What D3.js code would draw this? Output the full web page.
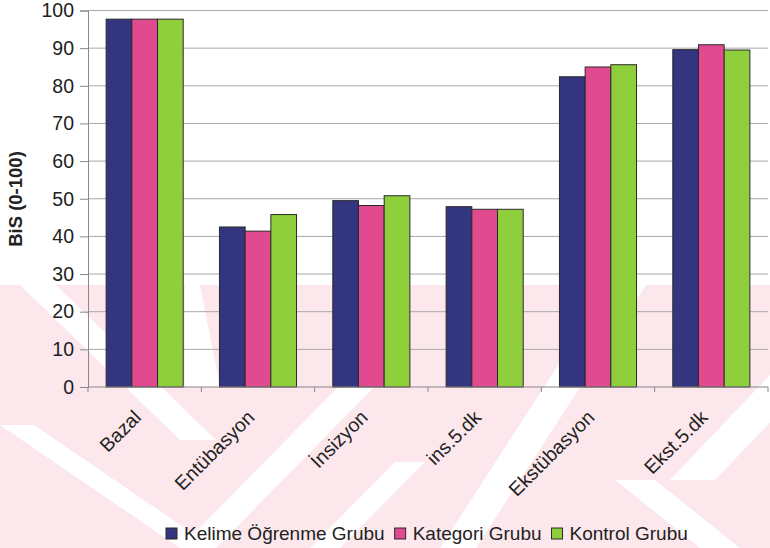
<!DOCTYPE html>
<html><head><meta charset="utf-8">
<script src="https://cdn.jsdelivr.net/npm/d3@7"></script>
<style>body{margin:0;background:#fff}svg{display:block}text{font-family:"Liberation Sans",Arial,sans-serif;fill:#222}</style>
</head><body><svg id="c" width="770" height="548"></svg>
<script>
const categories = ["Bazal","Entübasyon","İnsizyon","ins.5.dk","Ekstübasyon","Ekst.5.dk"];
const seriesNames = ["Kelime Öğrenme Grubu","Kategori Grubu","Kontrol Grubu"];
const kelime   = [97.7, 42.5, 49.5, 47.9, 82.4, 89.6];
const kategori = [97.7, 41.4, 48.2, 47.2, 85.0, 90.9];
const kontrol  = [97.7, 45.8, 50.8, 47.2, 85.6, 89.5];
const yTicks = [0,10,20,30,40,50,60,70,80,90,100];
const yTitle = "BiS (0-100)";
const colors = ["#33367f","#e14a8e","#8fcf3b"];

const series = [kelime, kategori, kontrol];
const svg = d3.select("#c");
const L = 88, R = 768, T = 10.5, B = 387;

// faint watermark (decoration)
const wm = svg.append("g");
wm.append("rect").attr("x",0).attr("y",285).attr("width",770).attr("height",263).attr("fill","#fce8ec");
const stripes = [[20,285,180,440,36],[0,425,180,548,34],[345,380,180,548,36],[395,462,310,548,30],[610,285,440,548,36],[615,480,700,548,40],[770,375,670,480,45]];
stripes.forEach(s=>{
  const [x1,y1,x2,y2,w]=s;
  wm.append("polygon").attr("points",[[x1,y1],[x1+w,y1],[x2+w,y2],[x2,y2]].map(p=>p.join(",")).join(" ")).attr("fill","#fff");
});
wm.append("polygon").attr("points","185,285 200,285 220,387 185,387").attr("fill","#fff");

const y = d3.scaleLinear().domain([0,100]).range([B,T]);
const x0 = d3.scaleBand().domain(categories).range([L,R]);
const bw = x0.bandwidth();
const x1 = d3.scaleBand().domain(seriesNames).range([bw*0.16, bw*0.84]);

// gridlines
svg.append("g").selectAll("line").data(yTicks.filter(d=>d>0)).join("line")
  .attr("x1",L).attr("x2",R).attr("y1",d=>y(d)).attr("y2",d=>y(d))
  .attr("stroke","#a8a8a8").attr("stroke-width",1);

// bars
const g = svg.append("g");
categories.forEach((c,i)=>{
  seriesNames.forEach((s,j)=>{
    g.append("rect").attr("x",x0(c)+x1(s)).attr("width",x1.bandwidth())
      .attr("y",y(series[j][i])).attr("height",B-y(series[j][i]))
      .attr("fill",colors[j]).attr("stroke","#2a2a2a").attr("stroke-width",1);
  });
});

// y axis
const ya = svg.append("g").attr("transform",`translate(${L},0)`)
  .call(d3.axisLeft(y).tickValues(yTicks).tickSize(8).tickPadding(6));
ya.select(".domain").attr("stroke","#888");
ya.selectAll(".tick line").attr("stroke","#888");
ya.selectAll("text").attr("font-size",19.5).style("fill","#222");

// x axis
const xa = svg.append("g").attr("transform",`translate(0,${B})`);
xa.append("line").attr("x1",L).attr("x2",R).attr("stroke","#888");
xa.selectAll("line.t").data(categories.map(c=>x0(c)).concat([R])).join("line").attr("class","t")
  .attr("x1",d=>d).attr("x2",d=>d).attr("y1",0).attr("y2",5).attr("stroke","#888");
xa.selectAll("text").data(categories).join("text")
  .attr("transform",d=>`translate(${x0(d)+bw/2-12},${22}) rotate(-45)`)
  .attr("text-anchor","end").attr("dy","0.7em").attr("font-size",19.5).text(d=>d);

// y title
svg.append("text").attr("transform","translate(22,199) rotate(-90)").attr("text-anchor","middle")
  .attr("font-size",18.5).attr("font-weight","bold").text(yTitle);

// legend
const lg = svg.append("g");
let lx = 166;
seriesNames.forEach((s,j)=>{
  lg.append("rect").attr("x",lx).attr("y",528).attr("width",11).attr("height",11)
    .attr("fill",colors[j]).attr("stroke","#2a2a2a");
  const t = lg.append("text").attr("x",lx+18).attr("y",539.5).attr("font-size",19).text(s);
  lx += 18 + t.node().getComputedTextLength() + 10;
});
</script></body></html>
